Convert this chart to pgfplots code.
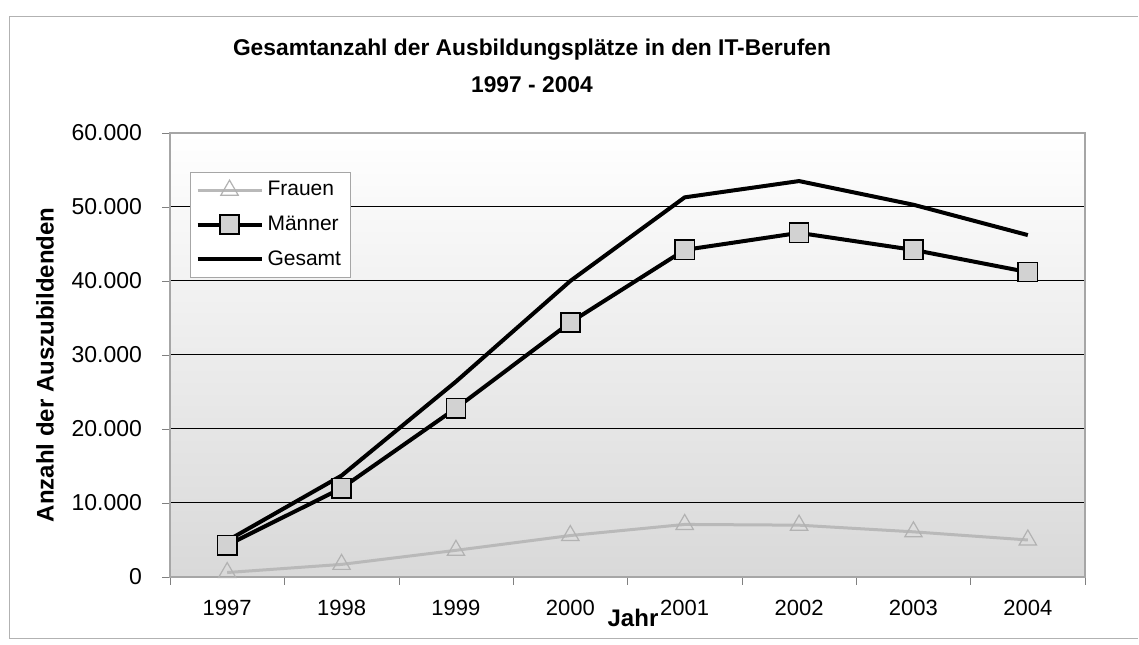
\documentclass[border=0pt]{standalone}
\usepackage{pgfplots}
\pgfplotsset{compat=1.18}
\usepackage{fontspec}
\setmainfont{Liberation Sans}
\begin{document}
\begin{tikzpicture}
\begin{axis}[
  scale only axis,
  width=457.5pt, height=222pt,
  xmin=-0.5, xmax=7.5, ymin=0, ymax=60000,
  xtick={0,...,7},
  xticklabels={1997,1998,1999,2000,2001,2002,2003,2004},
  major x tick style={draw=none},
  minor xtick={-0.5,0.5,...,7.5},
  minor tick length=4pt,
  xtick pos=bottom, ytick pos=left,
  tick align=outside,
  major tick length=4pt,
  ytick={0,10000,...,60000},
  scaled y ticks=false,
  /pgf/number format/.cd, fixed, precision=0, 1000 sep={.}, assume math mode=true,
  /pgfplots/.cd,
  xticklabel style={font=\fontsize{11}{13}\selectfont, yshift=-4pt},
  yticklabel style={font=\fontsize{11.5}{13}\selectfont, xshift=-6.5pt},
  ymajorgrids, grid style={black, line width=0.5pt},
  axis line style={gray!70, line width=0.6pt},
  axis background/.style={shade, top color=white, bottom color=gray!30},
  legend style={at={(0.022,0.912)}, anchor=north west, font=\fontsize{10.5}{12}\selectfont,
    draw=gray!70, fill=white, inner sep=2.5pt, row sep=4.5pt},
  legend image code/.code={%
    \draw[#1, mark repeat=2, mark phase=2] plot coordinates {(0pt,0pt) (16pt,0pt) (32pt,0pt)};},
  legend cell align=left,
  clip=false,
]
\addplot[gray!55, line width=1.5pt, mark=triangle, mark size=5pt, mark options={draw=gray!60, fill=white, line width=0.6pt}]
  coordinates {(0,600) (1,1700) (2,3600) (3,5600) (4,7100) (5,7000) (6,6100) (7,5000)};
\addlegendentry{Frauen}
\addplot[black, line width=2pt, mark=square*, mark size=4.8pt, mark options={draw=black, fill=gray!35, line width=0.8pt}]
  coordinates {(0,4300) (1,12000) (2,22800) (3,34400) (4,44200) (5,46500) (6,44200) (7,41200)};
\addlegendentry{M\"anner}
\addplot[black, line width=2pt]
  coordinates {(0,4900) (1,13700) (2,26400) (3,40000) (4,51300) (5,53500) (6,50300) (7,46200)};
\addlegendentry{Gesamt}
\path (rel axis cs:-0.1858,-0.1532) rectangle (rel axis cs:1.0590,1.2995);
\draw[gray!60, line width=0.5pt] (rel axis cs:1.0579,1.2613) -- (rel axis cs:-0.1749,1.2613) -- (rel axis cs:-0.1749,-0.1396) -- (rel axis cs:1.0579,-0.1396);
\node[font=\fontsize{11.4}{13}\selectfont\bfseries] at (rel axis cs:0.3956,1.1869) {Gesamtanzahl der Ausbildungspl\"atze in den IT-Berufen};
\node[font=\fontsize{11.4}{13}\selectfont\bfseries] at (rel axis cs:0.3956,1.1081) {1997 - 2004};
\node[font=\fontsize{12}{14}\selectfont\bfseries, rotate=90] at (rel axis cs:-0.1366,0.4775) {Anzahl der Auszubildenden};
\node[font=\fontsize{12}{14}\selectfont\bfseries] at (rel axis cs:0.5060,-0.0923) {Jahr};
\end{axis}
\end{tikzpicture}
\end{document}
